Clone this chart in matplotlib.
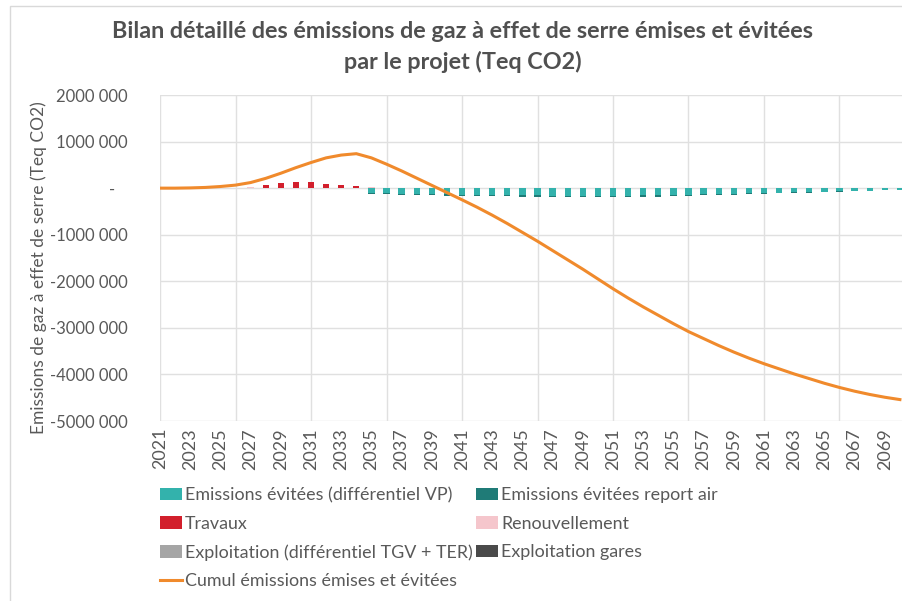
import numpy as np
import matplotlib
matplotlib.use("Agg")
import matplotlib.pyplot as plt
from matplotlib.patches import Rectangle

plt.rcParams['font.family'] = ['Lato', 'DejaVu Sans']

years = list(range(2021, 2071))

# emissions evitees (negatives), tonnes eq CO2
evit_vp = [0] * 14 + [
    -100e3, -110e3, -118e3, -126e3, -130e3, -135e3, -139e3, -143e3, -143e3, -147e3,
    -151e3, -155e3, -160e3, -164e3, -168e3, -168e3, -164e3, -160e3, -156e3, -152e3,
    -148e3, -140e3, -132e3, -127e3, -119e3, -110e3, -102e3, -98e3, -89e3, -85e3,
    -76e3, -68e3, -59e3, -51e3, -38e3, -30e3]
evit_air = [0] * 14 + [
    -20e3, -20e3, -22e3, -24e3, -25e3, -25e3, -26e3, -27e3, -27e3, -28e3,
    -29e3, -30e3, -30e3, -31e3, -32e3, -32e3, -31e3, -30e3, -29e3, -28e3,
    -27e3, -25e3, -23e3, -23e3, -21e3, -20e3, -18e3, -17e3, -16e3, -15e3,
    -14e3, -12e3, -11e3, -9e3, -7e3, -5e3]
travaux = [0] * 6 + [10e3, 75e3, 105e3, 130e3, 130e3, 90e3, 65e3, 55e3] + [0] * 36
renouvellement = [0] * 6 + [20e3] + [0] * 7 + [20e3] + [0] * 35
exploit_tgv_ter = [0] * 50
exploit_gares = [0] * 50

cumul = [0, 0, 5e3, 15e3, 35e3, 65e3, 120e3, 210e3, 320e3, 440e3,
         550e3, 650e3, 710e3, 740e3, 650e3, 515e3, 370e3, 215e3, 60e3, -95e3,
         -250e3, -410e3, -580e3, -760e3, -950e3, -1140e3, -1340e3, -1540e3, -1740e3, -1950e3,
         -2160e3, -2360e3, -2550e3, -2730e3, -2910e3, -3080e3, -3230e3, -3380e3, -3520e3, -3650e3,
         -3770e3, -3880e3, -3990e3, -4090e3, -4190e3, -4280e3, -4360e3, -4430e3, -4490e3, -4540e3]

y_ticks = [2e6, 1e6, 0, -1e6, -2e6, -3e6, -4e6, -5e6]
y_labels = ['2000 000', '1000 000', '-   ', '-1000 000', '-2000 000',
            '-3000 000', '-4000 000', '-5000 000']

grey_txt = '#595959'
c_vp = '#33B2AC'
c_air = '#1F7B77'
c_trav = '#D21F2C'
c_renouv = '#F5C6CC'
c_tgv = '#A5A5A5'
c_gares = '#4A4A4A'
c_cumul = '#F08A2C'

fig = plt.figure(figsize=(9.03, 6.01), dpi=100)
W, H = 903, 601
ax = fig.add_axes([160 / W, 1 - 421 / H, (903 - 160) / W, (421 - 95) / H])

x = np.arange(len(years))
w = 0.42
vp = np.array(evit_vp)
air = np.array(evit_air)
trav = np.array(travaux)
ren = np.array(renouvellement)

b_vp = ax.bar(x, vp, w, color=c_vp, zorder=3)
b_air = ax.bar(x, air, w, bottom=vp, color=c_air, zorder=3)
b_trav = ax.bar(x, trav, w, color=c_trav, zorder=3)
b_ren = ax.bar(x, ren, w, bottom=trav, color=c_renouv, zorder=3)
b_tgv = ax.bar(x, exploit_tgv_ter, w, color=c_tgv, zorder=3)
b_gares = ax.bar(x, exploit_gares, w, color=c_gares, zorder=3)
l_cum, = ax.plot(x, cumul, color=c_cumul, linewidth=2.2, zorder=4)

ax.set_xlim(0, (903 - 160) / 15.1)
ax.set_ylim(-5e6, 2e6)
ax.set_yticks(y_ticks)
ax.set_yticklabels(y_labels)
ax.set_xticks(x[::2])
ax.set_xticklabels([str(y) for y in years[::2]], rotation=90)
ax.tick_params(axis='y', length=0, pad=23, labelsize=12, labelcolor=grey_txt)
ax.tick_params(axis='x', length=0, pad=5, labelsize=13, labelcolor=grey_txt)

# gridlines: horizontal every 1M, vertical every 5 years
for yv in y_ticks:
    ax.axhline(yv, color='#E0E0E0', linewidth=1, zorder=1)
for xv in x[::5]:
    ax.axvline(xv, color='#E0E0E0', linewidth=1, zorder=1)
for s in ax.spines.values():
    s.set_visible(False)

ax.set_ylabel('Emissions de gaz à effet de serre (Teq CO2)', fontsize=12.5,
              color=grey_txt)
ax.yaxis.set_label_coords((47 - 160) / 743, 0.47)

fig.text(463 / W, 1 - 32 / H,
         'Bilan détaillé des émissions de gaz à effet de serre émises et évitées',
         ha='center', va='center', fontsize=16.8, fontweight='bold', color='#505050')
fig.text(463 / W, 1 - 62 / H, 'par le projet (Teq CO2)',
         ha='center', va='center', fontsize=16.8, fontweight='bold', color='#505050')

handles = [b_vp, b_trav, b_tgv, l_cum, b_air, b_ren, b_gares]
labels = ['Emissions évitées (différentiel VP)', 'Travaux',
          'Exploitation (différentiel TGV + TER)', 'Cumul émissions émises et évitées',
          'Emissions évitées report air', 'Renouvellement', 'Exploitation gares']
leg = fig.legend(handles, labels, ncol=2, loc='upper left',
                 bbox_to_anchor=(160 / W, 1 - 487 / H), frameon=False,
                 fontsize=12.9, labelcolor=grey_txt, handlelength=1.2,
                 handleheight=0.7, handletextpad=0.2, columnspacing=0.2,
                 labelspacing=0.70, borderpad=0, borderaxespad=0)

# chart area border (partly cropped in the screenshot)
fig.patches.append(Rectangle((10 / W, -0.1), 1.2, 1 - 6 / H + 0.1,
                             transform=fig.transFigure, fill=False,
                             edgecolor='#D9D9D9', linewidth=1))

fig.savefig('out.png', dpi=100)
